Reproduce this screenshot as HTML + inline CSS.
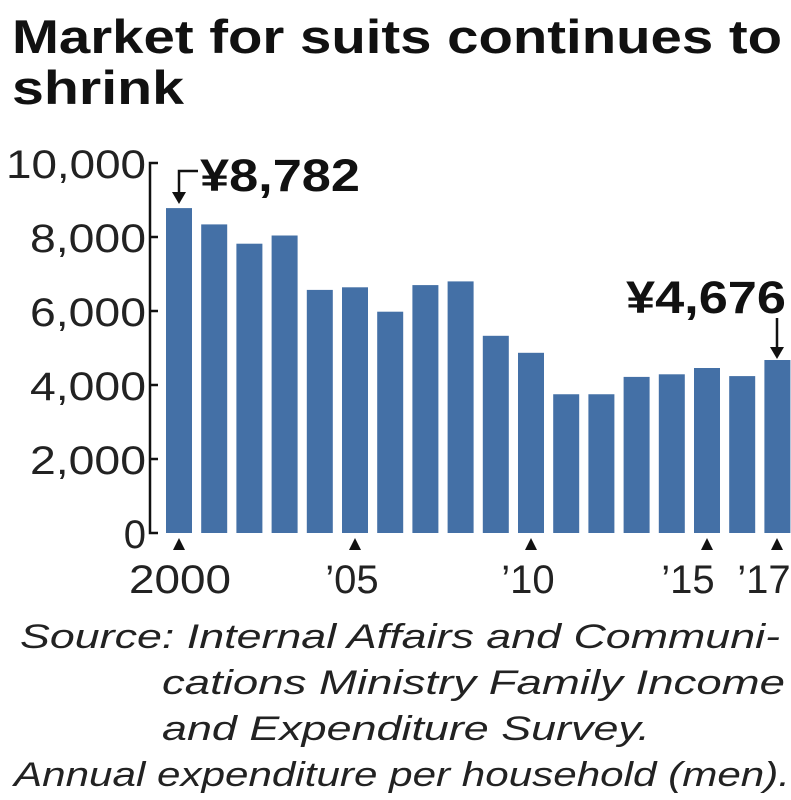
<!DOCTYPE html><html><head><style>body{margin:0;background:#fff}svg{display:block}text{font-family:"Liberation Sans",Arial,sans-serif}</style></head><body>
<svg width="791" height="800" viewBox="0 0 791 800">
<text x="12" y="53" font-size="47" font-weight="bold" fill="#111" textLength="770" lengthAdjust="spacingAndGlyphs">Market for suits continues to</text>
<text x="12" y="104" font-size="47" font-weight="bold" fill="#111" textLength="172" lengthAdjust="spacingAndGlyphs">shrink</text>
<g stroke="#111" stroke-width="2.5" fill="none">
<path d="M158 163H150V533H158M150 237H158M150 311H158M150 385H158M150 459H158"/>
</g>
<g font-size="40" fill="#222" text-anchor="end">
<text x="146" y="178" textLength="140" lengthAdjust="spacingAndGlyphs">10,000</text><text x="146" y="252" textLength="116" lengthAdjust="spacingAndGlyphs">8,000</text><text x="146" y="326" textLength="116" lengthAdjust="spacingAndGlyphs">6,000</text><text x="146" y="400" textLength="116" lengthAdjust="spacingAndGlyphs">4,000</text><text x="146" y="474" textLength="116" lengthAdjust="spacingAndGlyphs">2,000</text><text x="146" y="548">0</text>
</g>
<g fill="#4470a6">
<rect x="166" y="208.1" width="26" height="324.9"/>
<rect x="201.2" y="224.4" width="26" height="308.6"/>
<rect x="236.4" y="243.7" width="26" height="289.3"/>
<rect x="271.6" y="235.5" width="26" height="297.5"/>
<rect x="306.8" y="289.9" width="26" height="243.1"/>
<rect x="342" y="287.3" width="26" height="245.7"/>
<rect x="377.2" y="311.7" width="26" height="221.3"/>
<rect x="412.4" y="285.1" width="26" height="247.9"/>
<rect x="447.6" y="281.4" width="26" height="251.6"/>
<rect x="482.8" y="335.8" width="26" height="197.2"/>
<rect x="518" y="352.8" width="26" height="180.2"/>
<rect x="553.2" y="394.25" width="26" height="138.75"/>
<rect x="588.4" y="394.25" width="26" height="138.75"/>
<rect x="623.6" y="376.9" width="26" height="156.1"/>
<rect x="658.8" y="374.3" width="26" height="158.7"/>
<rect x="694" y="368" width="26" height="165"/>
<rect x="729.2" y="376.1" width="26" height="156.9"/>
<rect x="764.4" y="360" width="26" height="173"/>
</g>
<g fill="#111">
<path d="M179 538l-6 12h12z"/><path d="M355 538l-6 12h12z"/><path d="M531 538l-6 12h12z"/><path d="M707 538l-6 12h12z"/><path d="M777 538l-6 12h12z"/>
<path d="M172 192l7 12 7-12z"/><path d="M770 347l7 12 7-12z"/>
</g>
<path d="M179 194V171H198M777 349V318" stroke="#111" stroke-width="2.5" fill="none"/>
<text x="200" y="191" font-size="45" font-weight="bold" fill="#111" textLength="160" lengthAdjust="spacingAndGlyphs">¥8,782</text>
<text x="786" y="313" font-size="45" font-weight="bold" fill="#111" text-anchor="end" textLength="160" lengthAdjust="spacingAndGlyphs">¥4,676</text>
<g font-size="40" fill="#222" text-anchor="middle">
<text x="180" y="593" textLength="102" lengthAdjust="spacingAndGlyphs">2000</text><text x="352" y="593">’05</text><text x="528" y="593">’10</text><text x="688" y="593">’15</text><text x="764" y="593">’17</text>
</g>
<g font-size="34" font-style="italic" fill="#222">
<text x="20" y="648" textLength="760" lengthAdjust="spacingAndGlyphs">Source: Internal Affairs and Communi-</text>
<text x="162" y="694" textLength="623" lengthAdjust="spacingAndGlyphs">cations Ministry Family Income</text>
<text x="162" y="740" textLength="488" lengthAdjust="spacingAndGlyphs">and Expenditure Survey.</text>
<text x="14" y="786" textLength="776" lengthAdjust="spacingAndGlyphs">Annual expenditure per household (men).</text>
</g>
</svg></body></html>
